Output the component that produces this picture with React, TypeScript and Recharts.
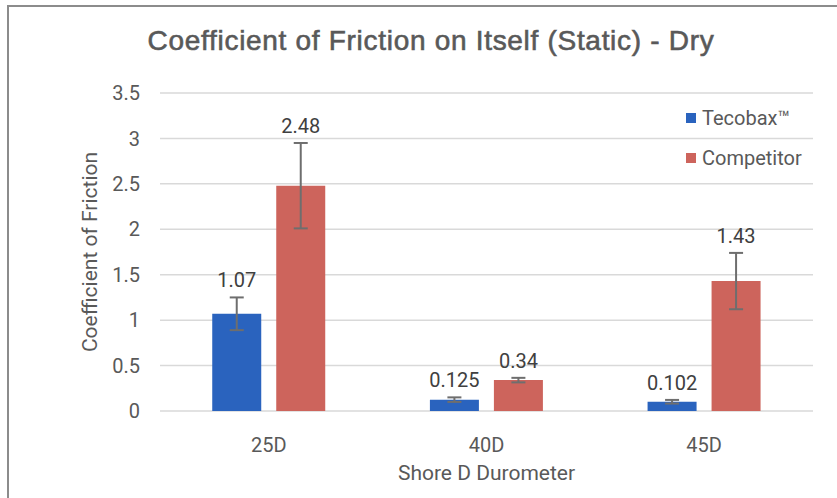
import { Bar, BarChart, CartesianGrid, ErrorBar, LabelList, Legend, XAxis, YAxis } from "recharts";

const categories = ["25D", "40D", "45D"];
const seriesNames = ["Tecobax™", "Competitor"];
const tecobax = [1.07, 0.125, 0.102];
const tecobaxErr = [0.18, 0.025, 0.02];
const competitor = [2.48, 0.34, 1.43];
const competitorErr = [0.47, 0.025, 0.31];
const tecobaxLabels = ["1.07", "0.125", "0.102"];
const competitorLabels = ["2.48", "0.34", "1.43"];
const yTicks = [0, 0.5, 1, 1.5, 2, 2.5, 3, 3.5];

const BLUE = "#2A63BE";
const RED = "#CD645C";
const TEXT = "#595959";
const FONT = "Roboto, 'Open Sans', sans-serif";

const data = categories.map((name, i) => ({
  name,
  tecobax: tecobax[i],
  tecobaxErr: tecobaxErr[i],
  competitor: competitor[i],
  competitorErr: competitorErr[i],
}));

// label sits above the error bar top, worked out from the bar's own pixel scale
function makeLabel(errs: number[], texts: string[]) {
  return (props: any) => {
    const { x, y, width, height, value, index } = props;
    const perUnit = value ? height / value : 0;
    const errTop = y - errs[index] * perUnit;
    return (
      <text x={x + width / 2} y={errTop - 10} textAnchor="middle" fill="#404040" fontSize={20} fontFamily={FONT}>
        {texts[index]}
      </text>
    );
  };
}

function LegendBox({ payload }: any) {
  const items = seriesNames
    .map((n) => (payload || []).find((p: any) => p.value === n))
    .filter(Boolean);
  return (
    <div style={{ fontFamily: FONT, fontSize: 20, color: TEXT }}>
      {items.map((p: any) => (
        <div key={p.value} style={{ display: "flex", alignItems: "center", height: 40 }}>
          <span style={{ width: 10, height: 10, background: p.color, marginRight: 6 }} />
          {p.value}
        </div>
      ))}
    </div>
  );
}

export default function App() {
  return (
    <div style={{ position: "fixed", left: 0, top: 0, width: 837, height: 498, background: "#fff" }}>
      <div style={{ position: "absolute", left: 7, top: 5, right: 0, bottom: 0, borderLeft: "2px solid #8c8c8c", borderTop: "2px solid #8c8c8c" }} />
      <div
        style={{
          position: "absolute",
          left: 0,
          width: 862,
          top: 25,
          textAlign: "center",
          fontFamily: "'Liberation Sans', Arial, sans-serif",
          fontSize: 28,
          letterSpacing: 0.7,
          WebkitTextStroke: "0.6px #595959",
          color: TEXT,
        }}
      >
        Coefficient of Friction on Itself (Static) - Dry
      </div>
      <div style={{ position: "absolute", left: 0, top: 0 }}>
        <BarChart width={837} height={498} data={data} margin={{ top: 93, right: 24, bottom: 0, left: 80 }} barCategoryGap="24%" barGap={15}>
          <CartesianGrid vertical={false} stroke="#D9D9D9" strokeWidth={1.5} />
          <XAxis
            dataKey="name"
            axisLine={false}
            tickLine={false}
            height={87}
            tickMargin={21}
            tick={{ fill: TEXT, fontSize: 20, fontFamily: FONT }}
            label={{ value: "Shore D Durometer", position: "insideBottom", offset: 18, fill: TEXT, fontSize: 21, fontFamily: FONT }}
          />
          <YAxis
            domain={[0, 3.5]}
            ticks={yTicks}
            axisLine={false}
            tickLine={false}
            width={80}
            tickMargin={14}
            tick={{ fill: TEXT, fontSize: 20, fontFamily: FONT }}
            label={{ value: "Coefficient of Friction", angle: -90, position: "insideLeft", offset: 10, fill: TEXT, fontSize: 21, fontFamily: FONT, style: { textAnchor: "middle" } }}
          />
          <Legend
            layout="horizontal"
            align="center"
            verticalAlign="middle"
            wrapperStyle={{ top: 98, left: 686, width: 140 }}
            content={<LegendBox />}
          />
          <Bar dataKey="tecobax" name="Tecobax™" fill={BLUE} isAnimationActive={false}>
            <ErrorBar dataKey="tecobaxErr" width={7} strokeWidth={2} stroke="#6E6E6E" direction="y" />
            <LabelList dataKey="tecobax" content={makeLabel(tecobaxErr, tecobaxLabels)} />
          </Bar>
          <Bar dataKey="competitor" name="Competitor" fill={RED} isAnimationActive={false}>
            <ErrorBar dataKey="competitorErr" width={7} strokeWidth={2} stroke="#6E6E6E" direction="y" />
            <LabelList dataKey="competitor" content={makeLabel(competitorErr, competitorLabels)} />
          </Bar>
        </BarChart>
      </div>
    </div>
  );
}
